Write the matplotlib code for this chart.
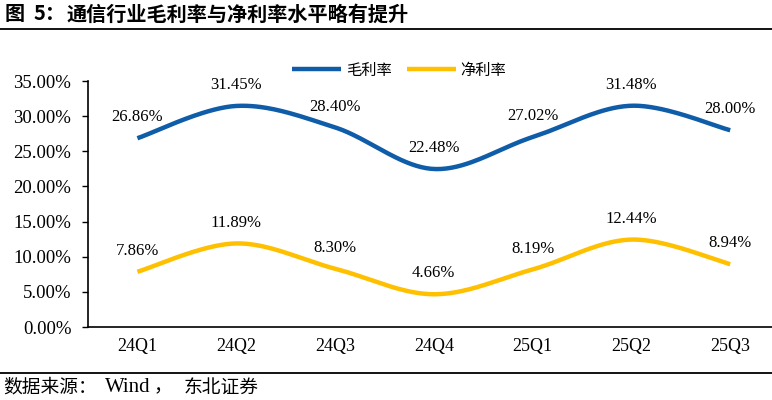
import matplotlib
matplotlib.use('Agg')
import matplotlib.pyplot as plt
import numpy as np

# data
quarters = ['24Q1', '24Q2', '24Q3', '24Q4', '25Q1', '25Q2', '25Q3']
gross_margin = [26.86, 31.45, 28.40, 22.48, 27.02, 31.48, 28.00]
net_margin = [7.86, 11.89, 8.30, 4.66, 8.19, 12.44, 8.94]
y_ticks = [0, 5, 10, 15, 20, 25, 30, 35]

BLUE = '#0F5CA8'
YELLOW = '#FFC000'
SERIF = ['Liberation Serif', 'Noto Sans CJK SC']
CJK = ['Noto Sans CJK SC', 'DejaVu Sans']


def smooth(xs, ys, n=40):
    # Excel-style smoothed line (Catmull-Rom through the points)
    xs = np.asarray(xs, float)
    ys = np.asarray(ys, float)
    px = np.concatenate([[xs[0]], xs, [xs[-1]]])
    py = np.concatenate([[ys[0]], ys, [ys[-1]]])
    ox, oy = [], []
    for i in range(1, len(px) - 2):
        t = np.linspace(0, 1, n)
        for p, out in ((px, ox), (py, oy)):
            p0, p1, p2, p3 = p[i - 1], p[i], p[i + 1], p[i + 2]
            out.extend(0.5 * ((2 * p1) + (-p0 + p2) * t +
                              (2 * p0 - 5 * p1 + 4 * p2 - p3) * t ** 2 +
                              (-p0 + 3 * p1 - 3 * p2 + p3) * t ** 3))
    return np.array(ox), np.array(oy)


fig = plt.figure(figsize=(7.72, 4.0), dpi=100)
ax = fig.add_axes([88 / 772, 1 - 327 / 400, 684 / 772, 246 / 400])

x = np.arange(len(quarters))
for vals, color, name in [(gross_margin, BLUE, '毛利率'), (net_margin, YELLOW, '净利率')]:
    sx, sy = smooth(x, vals)
    ax.plot(sx, sy, color=color, lw=3.2, solid_capstyle='butt', label=name)
    for xi, v in zip(x, vals):
        ax.annotate(f'{v:.2f}%', (xi, v), xytext=(0, 15), textcoords='offset points',
                    ha='center', va='center', fontsize=12, family=SERIF)

ax.set_xlim(-0.5, -0.5 + 684 / 98.8)
ax.set_ylim(0, 35)
ax.set_yticks(y_ticks)
ax.set_yticklabels([f'{t:.2f}%' for t in y_ticks], family=SERIF, fontsize=13.5)
ax.set_xticks(x)
ax.set_xticklabels(quarters, family=SERIF, fontsize=13)
ax.tick_params(axis='x', length=0, pad=8)
ax.tick_params(axis='y', length=4, width=1, direction='out', pad=8)
for s in ['top', 'right']:
    ax.spines[s].set_visible(False)
ax.spines['left'].set_linewidth(1.2)
ax.spines['bottom'].set_linewidth(1.2)

leg = ax.legend(loc='upper center', bbox_to_anchor=((399 - 88) / 684, 1.135),
                ncol=2, frameon=False, prop={'family': CJK, 'size': 11},
                handlelength=3.2, columnspacing=1.0, handletextpad=0.3)

# title
ty = 1 - 14 / 400
fig.text(5 / 772, ty, '图', family=CJK, fontsize=14.5, fontweight='bold', va='center', ha='left')
fig.text(34 / 772, ty, '5：', family=SERIF[::-1], fontsize=14.5, fontweight='bold', va='center', ha='left')
fig.text(67 / 772, ty, '通信行业毛利率与净利率水平略有提升', family=CJK,
         fontsize=14.5, fontweight='bold', va='center', ha='left')
fig.add_artist(plt.Line2D([0, 1], [1 - 29 / 400, 1 - 29 / 400], color='black', lw=1.3))
fig.add_artist(plt.Line2D([0, 1], [1 - 373 / 400, 1 - 373 / 400], color='black', lw=1.3))

# source
sy_ = 1 - 387 / 400
fig.text(3 / 772, sy_, '数据来源：', family=CJK, fontsize=13.5, va='center', ha='left')
fig.text(105 / 772, sy_, 'Wind', family=SERIF, fontsize=15, va='center', ha='left')
fig.text(154 / 772, sy_, '，', family=CJK, fontsize=13.5, va='center', ha='left')
fig.text(184 / 772, sy_, '东北证券', family=CJK, fontsize=13.5, va='center', ha='left')

fig.savefig('out.png', dpi=100)
